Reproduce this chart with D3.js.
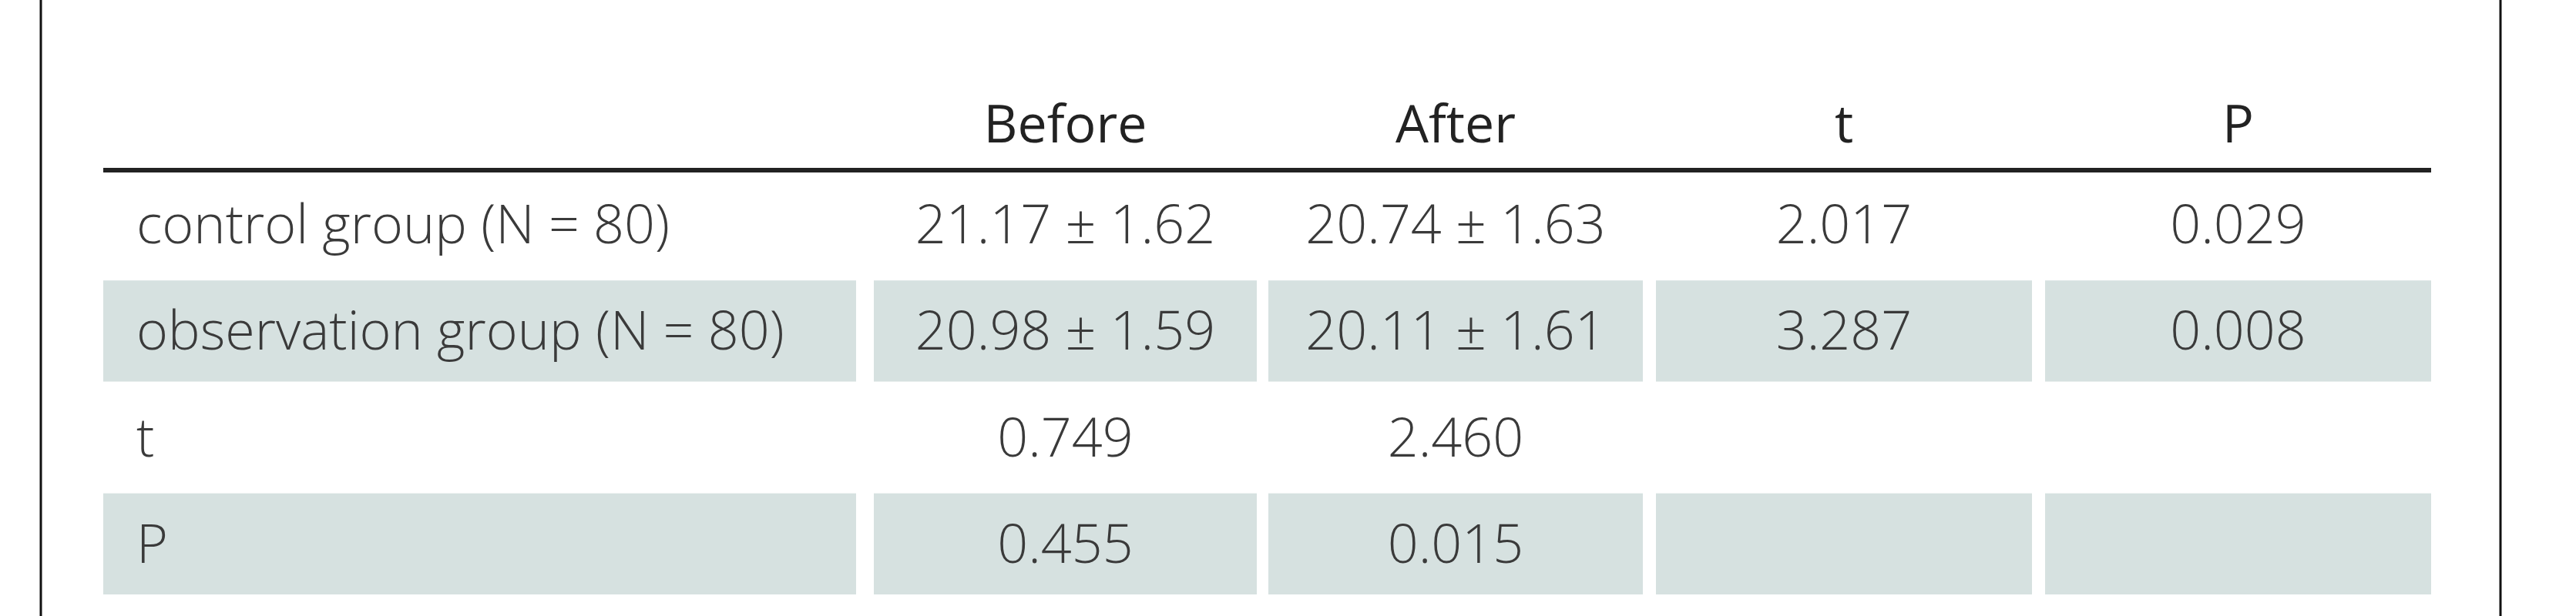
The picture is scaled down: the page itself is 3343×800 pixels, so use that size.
<!DOCTYPE html>
<html>
<head>
  <script src="https://d3js.org/d3.v7.min.js"></script>
  <style>
    body { margin: 0; background: #fff; }
    .cell { font-family: "Open Sans", sans-serif; font-weight: 300; font-size: 70px; fill: #3a3a3a; }
    .head { font-family: "Open Sans", sans-serif; font-weight: 500; font-size: 68px; fill: #222; }
  </style>
</head>
<body>
  <div id="chart"></div>
  <script>
    // table contents
    var columns = ["", "Before", "After", "t", "P"];
    var rowLabels = ["control group (N = 80)", "observation group (N = 80)", "t", "P"];
    var beforeVals = ["21.17 ± 1.62", "20.98 ± 1.59", "0.749", "0.455"];
    var afterVals = ["20.74 ± 1.63", "20.11 ± 1.61", "2.460", "0.015"];
    var tVals = ["2.017", "3.287", "", ""];
    var pVals = ["0.029", "0.008", "", ""];

    var width = 3343, height = 800;
    var svg = d3.select("#chart").append("svg")
      .attr("width", width).attr("height", height);

    // column edges (left, right) in px
    var colEdges = [[134, 1111], [1134, 1631], [1646, 2132], [2149, 2637], [2654, 3155]];

    var yScale = d3.scaleBand()
      .domain(d3.range(rowLabels.length))
      .range([226, 772])
      .paddingInner(0.05);

    // frame
    [53, 3245].forEach(function(x) {
      svg.append("line").attr("x1", x).attr("x2", x).attr("y1", 0).attr("y2", height)
        .attr("stroke", "#111").attr("stroke-width", 3);
    });

    // header
    columns.forEach(function(c, i) {
      if (!c) return;
      svg.append("text").attr("class", "head")
        .attr("x", (colEdges[i][0] + colEdges[i][1]) / 2)
        .attr("y", 161).attr("dy", "0.35em")
        .attr("text-anchor", "middle").text(c);
    });
    svg.append("line").attr("x1", 134).attr("x2", 3155).attr("y1", 221).attr("y2", 221)
      .attr("stroke", "#222").attr("stroke-width", 6);

    var table = rowLabels.map(function(r, i) {
      return [r, beforeVals[i], afterVals[i], tVals[i], pVals[i]];
    });

    table.forEach(function(row, ri) {
      var y = yScale(ri), h = yScale.bandwidth();
      row.forEach(function(v, ci) {
        if (ri % 2 === 1) {
          svg.append("rect")
            .attr("x", colEdges[ci][0]).attr("y", y)
            .attr("width", colEdges[ci][1] - colEdges[ci][0]).attr("height", h)
            .attr("fill", "#d6e1e0");
        }
        if (!v) return;
        svg.append("text").attr("class", "cell")
          .attr("x", ci === 0 ? 177 : (colEdges[ci][0] + colEdges[ci][1]) / 2)
          .attr("y", y + h / 2).attr("dy", "0.35em")
          .attr("text-anchor", ci === 0 ? "start" : "middle")
          .text(v);
      });
    });
  </script>
</body>
</html>
